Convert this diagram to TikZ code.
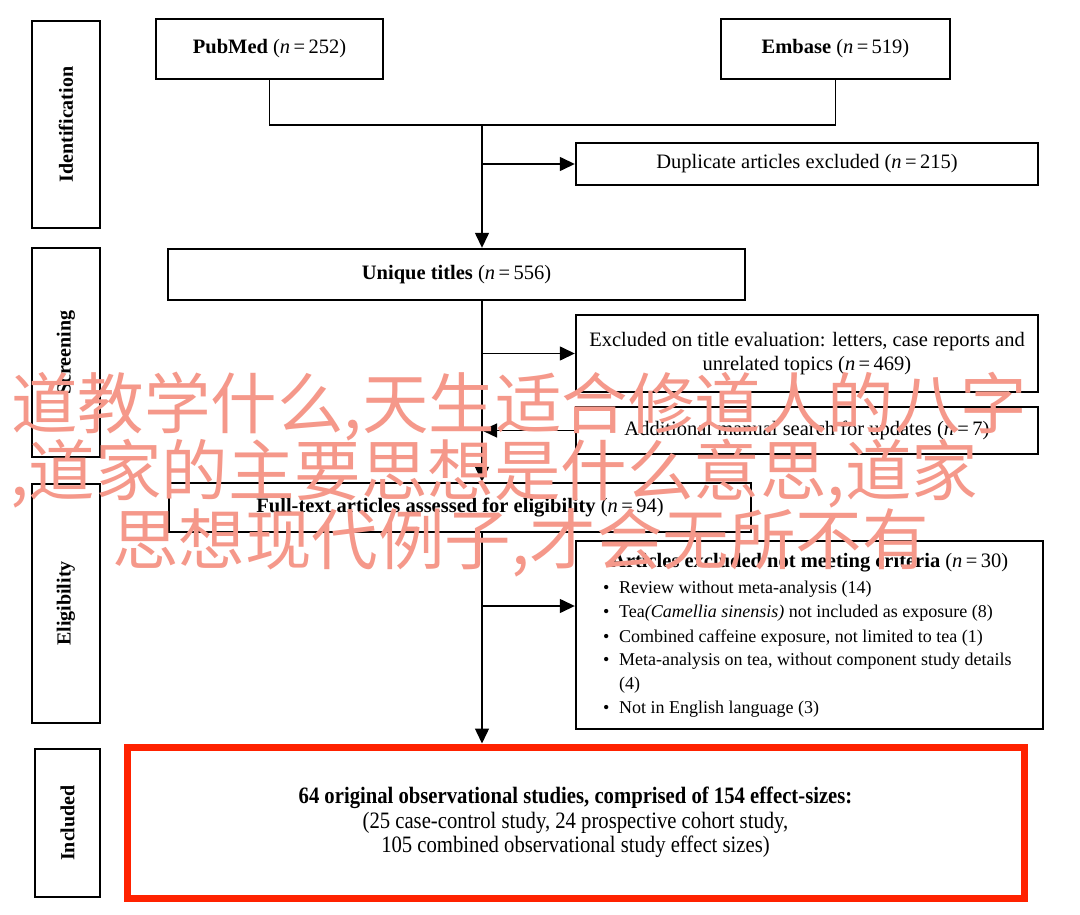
\documentclass[tikz,border=0pt]{standalone}
\usepackage{fontspec}
\setmainfont{Liberation Serif}
\newfontfamily\narrowserif[FakeStretch=0.88]{Liberation Serif}
\newfontfamily\cjk{Noto Sans CJK SC}
\usetikzlibrary{arrows.meta}
\definecolor{wmcol}{RGB}{245,152,138}
\definecolor{incred}{RGB}{255,34,0}
\begin{document}
\begin{tikzpicture}[x=1pt,y=-1pt,
  box/.style={draw, line width=2.4pt, inner sep=0pt, align=center, font=\fontsize{20.5}{24}\selectfont},
  stage/.style={draw, line width=2.4pt, inner sep=0pt},
  stagetext/.style={rotate=90, inner sep=0pt, font=\bfseries\fontsize{20}{24}\selectfont},
  txt/.style={inner sep=0pt, anchor=base west, font=\fontsize{18}{24}\selectfont},
  conn/.style={line width=1.4pt},
  arr/.style={conn, -{Triangle[length=15pt,width=14pt]}},
  wm/.style={text=wmcol, font=\cjk\fontsize{66.5}{68}\selectfont, anchor=base west, inner sep=0pt}]
\useasboundingbox[fill=white] (0,0) rectangle (1080,915);

% stage labels
\node[stage, minimum width=68pt, minimum height=207pt] (idL) at (66,124.5) {};
\node[stagetext] (idT) at (idL.center) {Identification};
\node[stage, minimum width=68pt, minimum height=209pt] (scrL) at (66,352.5) {};
\node[stagetext] (scrT) at (scrL.center) {Screening};
\node[stage, minimum width=68pt, minimum height=239pt] (eliL) at (66,603.5) {};
\node[stagetext] (eliT) at (eliL.center) {Eligibility};
\node[stage, minimum width=65pt, minimum height=148pt] (incL) at (67.5,823) {};
\node[stagetext] (incT) at (incL.center) {Included};

% main boxes
\node[box, minimum width=227pt, minimum height=60pt] (pub) at (269.5,49) {\textbf{PubMed} (\textit{n}\,=\,252)};
\node[box, minimum width=229pt, minimum height=60pt] (emb) at (835.5,49) {\textbf{Embase} (\textit{n}\,=\,519)};
\node[box, minimum width=462pt, minimum height=42pt] (dup) at (807,164) {Duplicate articles excluded (\textit{n}\,=\,215)};
\node[box, minimum width=577pt, minimum height=51pt] (uniq) at (456.5,274.5) {\textbf{Unique titles} (\textit{n}\,=\,556)};
\node[box, minimum width=462pt, minimum height=77pt] (exT) at (807,353.5) {Excluded on title evaluation: letters, case reports and\\unrelated topics (\textit{n}\,=\,469)};
\node[box, minimum width=462pt, minimum height=47pt] (add) at (807,430.5) {Additional manual search for updates (\textit{n}\,=\,7)};
\node[box, minimum width=582pt, minimum height=49pt] (full) at (460,507.5) {\textbf{Full-text articles assessed for eligibility} (\textit{n}\,=\,94)};
\node[box, minimum width=467pt, minimum height=188pt] (exA) at (809.5,635) {};
\node[draw=incred, line width=7pt, inner sep=0pt, minimum width=897pt, minimum height=151pt,
      align=center, font=\narrowserif\fontsize{23.5}{24.5}\selectfont] (inc) at (575.5,822.5)
  {\textbf{64 original observational studies, comprised of 154 effect-sizes:}\\(25 case-control study, 24 prospective cohort study,\\105 combined observational study effect sizes)};

% list inside exA
\node[txt, font=\fontsize{20.5}{24}\selectfont] (exA0) at (611,567) {\textbf{Articles excluded not meeting criteria} (\textit{n}\,=\,30)};
\node[txt] (exA1) at (603,593) {\makebox[16pt][l]{\textbullet}Review without meta-analysis (14)};
\node[txt] (exA2) at (603,617) {\makebox[16pt][l]{\textbullet}Tea\textit{(Camellia sinensis)} not included as exposure (8)};
\node[txt] (exA3) at (603,642) {\makebox[16pt][l]{\textbullet}Combined caffeine exposure, not limited to tea (1)};
\node[txt] (exA4) at (603,665) {\makebox[16pt][l]{\textbullet}Meta-analysis on tea, without component study details};
\node[txt] (exA5) at (619,689) {(4)};
\node[txt] (exA6) at (603,713) {\makebox[16pt][l]{\textbullet}Not in English language (3)};

% connectors
\coordinate (j1) at (482,125);
\coordinate (j2) at (482,606);
\draw[conn] (pub.south) |- (j1) -| (emb.south);
\draw[arr] (j1) -- (j1 |- uniq.north);
\draw[arr] (j1 |- dup.west) -- (dup.west);
\draw[arr] (j1 |- uniq.south) -- (j1 |- full.north);
\draw[arr] (j1 |- exT.west) -- (exT.west);
\draw[arr] (add.west) -- (j1 |- add.west);
\draw[arr] (j1 |- full.south) -- (j1 |- inc.north);
\draw[arr] (j2) -- (j2 -| exA.west);

% overlay text
\node[wm] (w1) at (11,428) {道教学什么,天生适合修道人的八字};
\node[wm] (w2) at (10,495) {,道家的主要思想是什么意思,道家};
\node[wm] (w3) at (112,564) {思想现代例子,才会无所不有};
\end{tikzpicture}
\end{document}
